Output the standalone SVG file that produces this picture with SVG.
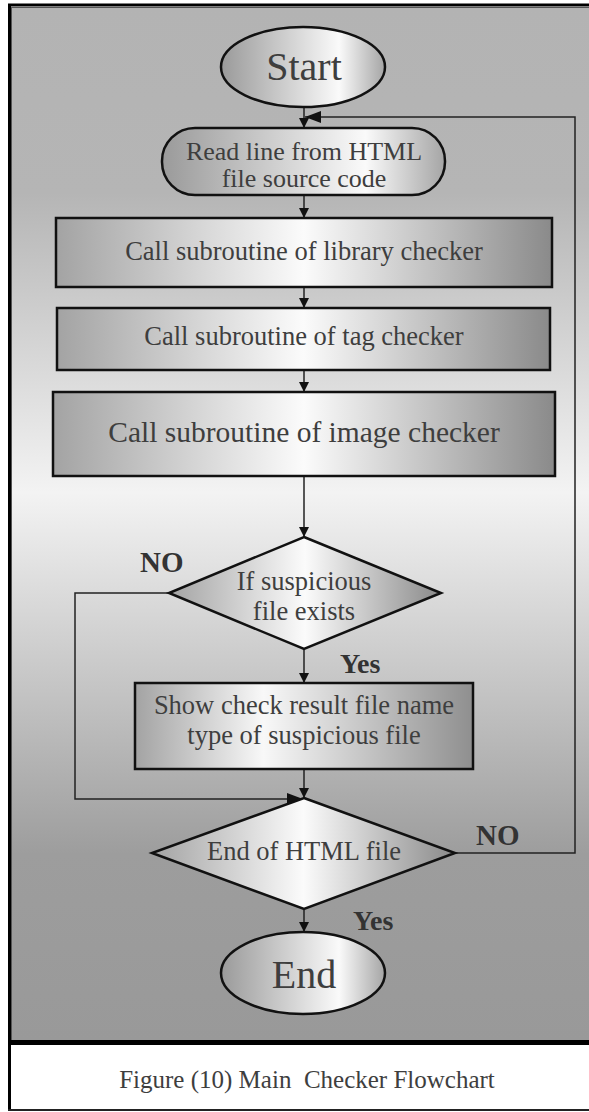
<svg xmlns="http://www.w3.org/2000/svg" width="589" height="1112" viewBox="0 0 589 1112">
<style>
.t{font-family:"Liberation Serif","Times New Roman",serif;fill:#3e3e3e;text-anchor:middle}
.lb{font-family:"Liberation Serif","Times New Roman",serif;fill:#333;font-weight:bold}
.sh{stroke:#111;stroke-width:2.5}
.cn{fill:none;stroke:#222;stroke-width:1.5}
</style>
<defs>
<linearGradient id="bg" x1="0" y1="7" x2="0" y2="1040" gradientUnits="userSpaceOnUse">
<stop offset="0" stop-color="#b3b3b3"/>
<stop offset="0.18" stop-color="#b5b5b5"/>
<stop offset="0.47" stop-color="#f3f3f3"/>
<stop offset="0.82" stop-color="#9d9d9d"/>
<stop offset="1" stop-color="#999"/>
</linearGradient>
<linearGradient id="gc" x1="0" y1="0" x2="1" y2="0">
<stop offset="0" stop-color="#a3a3a3"/>
<stop offset="0.5" stop-color="#fbfbfb"/>
<stop offset="1" stop-color="#8a8a8a"/>
</linearGradient>
<linearGradient id="gl" x1="0" y1="0" x2="1" y2="0">
<stop offset="0" stop-color="#a3a3a3"/>
<stop offset="0.38" stop-color="#f8f8f8"/>
<stop offset="1" stop-color="#8f8f8f"/>
</linearGradient>
<linearGradient id="gr" x1="0" y1="0" x2="1" y2="0">
<stop offset="0" stop-color="#9a9a9a"/>
<stop offset="0.72" stop-color="#fafafa"/>
<stop offset="1" stop-color="#a5a5a5"/>
</linearGradient>
<marker id="ah" markerWidth="10" markerHeight="10" refX="10" refY="5" orient="auto" markerUnits="userSpaceOnUse">
<path d="M0,0 L10,5 L0,10 z" fill="#111"/>
</marker>
<marker id="ahl" markerWidth="16" markerHeight="12" refX="16" refY="6" orient="auto" markerUnits="userSpaceOnUse">
<path d="M0,0 L16,6 L0,12 z" fill="#111"/>
</marker>
</defs>

<g id="frame">
<rect x="11" y="7" width="590" height="1034" fill="url(#bg)"/>
<rect x="11" y="1045" width="590" height="64" fill="#fff"/>
<line x1="8" y1="5" x2="589" y2="5" stroke="#000" stroke-width="3"/>
<line x1="11" y1="7.5" x2="589" y2="7.5" stroke="#555" stroke-width="1"/>
<line x1="9.5" y1="4" x2="9.5" y2="1111" stroke="#000" stroke-width="3"/>
<line x1="11.5" y1="7" x2="11.5" y2="1041" stroke="#555" stroke-width="1"/>
<line x1="8" y1="1042.5" x2="589" y2="1042.5" stroke="#000" stroke-width="5"/>
<line x1="8" y1="1110" x2="589" y2="1110" stroke="#222" stroke-width="2"/>
</g>

<g id="connectors">
<line class="cn" x1="304" y1="107" x2="304" y2="128" marker-end="url(#ah)"/>
<line class="cn" x1="304" y1="195" x2="304" y2="218" marker-end="url(#ah)"/>
<line class="cn" x1="304" y1="287" x2="304" y2="308" marker-end="url(#ah)"/>
<line class="cn" x1="304" y1="370" x2="304" y2="392" marker-end="url(#ah)"/>
<line class="cn" x1="304" y1="476" x2="304" y2="537" marker-end="url(#ah)"/>
<line class="cn" x1="304" y1="649" x2="304" y2="683" marker-end="url(#ah)"/>
<line class="cn" x1="304" y1="769" x2="304" y2="798" marker-end="url(#ah)"/>
<line class="cn" x1="304" y1="910" x2="304" y2="932" marker-end="url(#ah)"/>
<polyline class="cn" points="169,593 75,593 75,799 303,799" marker-end="url(#ahl)"/>
<polyline class="cn" points="455,853 575,853 575,117 305,117" marker-end="url(#ahl)"/>
</g>

<g id="start">
<ellipse class="sh" cx="303" cy="67" rx="82" ry="40" fill="url(#gr)"/>
<text class="t" x="304" y="80" font-size="40">Start</text>
</g>

<g id="read">
<rect class="sh" x="162" y="128" width="283" height="67" rx="33" ry="33" fill="url(#gr)"/>
<text class="t" x="304" y="160" font-size="26">Read line from HTML</text>
<text class="t" x="304" y="187" font-size="26">file source code</text>
</g>

<g id="library">
<rect class="sh" x="56" y="218" width="496" height="69" fill="url(#gc)"/>
<text class="t" x="304" y="260" font-size="26.5">Call subroutine of library checker</text>
</g>

<g id="tag">
<rect class="sh" x="57" y="308" width="493" height="62" fill="url(#gc)"/>
<text class="t" x="304" y="345" font-size="26.5">Call subroutine of tag checker</text>
</g>

<g id="image">
<rect class="sh" x="53" y="392" width="502" height="84" fill="url(#gc)"/>
<text class="t" x="304" y="442" font-size="29.5">Call subroutine of image checker</text>
</g>

<g id="suspicious">
<polygon class="sh" points="304,537 441,593 304,649 169,593" fill="url(#gc)"/>
<text class="t" x="304" y="590" font-size="26.5">If suspicious</text>
<text class="t" x="304" y="620" font-size="26.5">file exists</text>
</g>

<g id="show">
<rect class="sh" x="135" y="683" width="338" height="86" fill="url(#gl)"/>
<text class="t" x="304" y="714" font-size="26.5">Show check result file name</text>
<text class="t" x="304" y="744" font-size="26.5">type of suspicious file</text>
</g>

<g id="endfile">
<polygon class="sh" points="304,798 455,853 304,909 152,853" fill="url(#gc)"/>
<text class="t" x="304" y="860" font-size="26.5">End of HTML file</text>
</g>

<g id="end">
<ellipse class="sh" cx="303" cy="973" rx="82" ry="41" fill="url(#gr)"/>
<text class="t" x="304" y="988" font-size="40">End</text>
</g>

<g id="labels">
<text class="lb" x="140" y="572" font-size="29">NO</text>
<text class="lb" x="340" y="673" font-size="28">Yes</text>
<text class="lb" x="476" y="845" font-size="29">NO</text>
<text class="lb" x="353" y="930" font-size="28">Yes</text>
</g>

<g id="caption">
<text class="t" x="307" y="1088" font-size="25" xml:space="preserve">Figure (10) Main  Checker Flowchart</text>
</g>
</svg>
